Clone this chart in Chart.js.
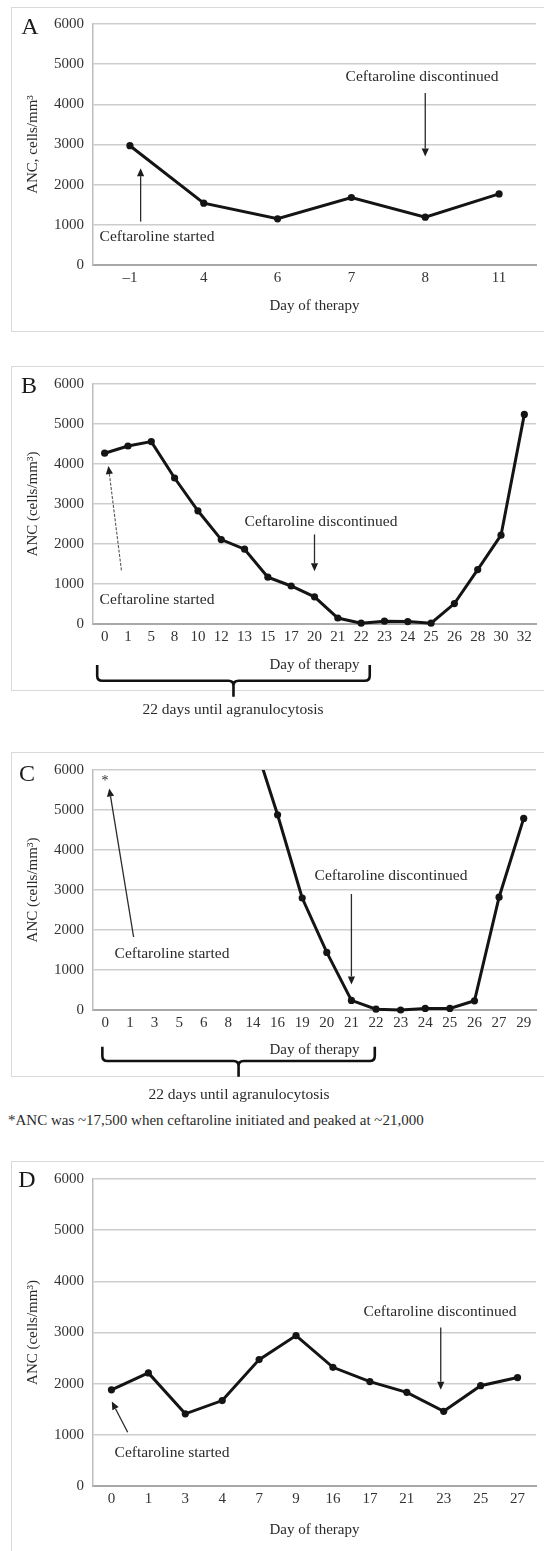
<!DOCTYPE html>
<html>
<head>
<meta charset="utf-8">
<script src="https://cdn.jsdelivr.net/npm/chart.js@4.4.1/dist/chart.umd.min.js"></script>
<style>
  html,body{margin:0;padding:0;background:#fff;}
  body{width:544px;height:1551px;position:relative;overflow:hidden;font-family:"Liberation Serif","DejaVu Serif",serif;}
  .box{position:absolute;left:11px;width:620px;border:1.5px solid #d9d9d9;box-sizing:border-box;}
  .cv{position:absolute;left:0;}
  .t{position:absolute;transform:translate(-50%,-50%);white-space:nowrap;line-height:1;font-size:15.5px;color:#2a2a2a;z-index:3;}
  .big{font-size:24px;color:#1a1a1a;}
  .fn{position:absolute;transform:translate(0,-50%);white-space:nowrap;line-height:1;font-size:15px;color:#2a2a2a;}
</style>
</head>
<body>
<div class="box" style="top:7px;height:325px"></div>
<div class="box" style="top:366px;height:325px"></div>
<div class="box" style="top:752px;height:325px"></div>
<div class="box" style="top:1161px;height:500px"></div>

<canvas id="cA" class="cv" style="top:0px" width="544" height="340"></canvas>
<canvas id="cB" class="cv" style="top:366px" width="544" height="340"></canvas>
<canvas id="cC" class="cv" style="top:752px" width="544" height="340"></canvas>
<canvas id="cD" class="cv" style="top:1161px" width="544" height="390"></canvas>

<div class="t big" style="left:30px;top:26px">A</div>
<div class="t" style="left:422px;top:76px">Ceftaroline discontinued</div>
<div class="t" style="left:157px;top:236px">Ceftaroline started</div>

<div class="t big" style="left:29px;top:385px">B</div>
<div class="t" style="left:321px;top:521px">Ceftaroline discontinued</div>
<div class="t" style="left:157px;top:599px">Ceftaroline started</div>
<div class="t" style="left:233px;top:709px">22 days until agranulocytosis</div>

<div class="t big" style="left:27px;top:773px">C</div>
<div class="t" style="left:105px;top:781px;font-size:14px">*</div>
<div class="t" style="left:391px;top:875px">Ceftaroline discontinued</div>
<div class="t" style="left:172px;top:953px">Ceftaroline started</div>
<div class="t" style="left:239px;top:1094px">22 days until agranulocytosis</div>
<div class="fn" style="left:8px;top:1120px">*ANC was ~17,500 when ceftaroline initiated and peaked at ~21,000</div>

<div class="t big" style="left:27px;top:1179px">D</div>
<div class="t" style="left:440px;top:1311px">Ceftaroline discontinued</div>
<div class="t" style="left:172px;top:1452px">Ceftaroline started</div>

<script>
// ---------------- data ----------------
const daysA = ['\u20131', '4', '6', '7', '8', '11'];
const ancA  = [2970, 1540, 1150, 1680, 1190, 1770];

const daysB = ['0','1','5','8','10','12','13','15','17','20','21','22','23','24','25','26','28','30','32'];
const ancB  = [4270, 4450, 4560, 3650, 2830, 2110, 1870, 1170, 950, 680, 150, 20, 70, 60, 20, 510, 1360, 2220, 5240];

const daysC = ['0','1','3','5','6','8','14','16','19','20','21','22','23','24','25','26','27','29'];
const ancC  = [17500, 19000, 20500, 21000, 19500, 16500, 6800, 4880, 2800, 1440, 240, 20, 0, 40, 40, 230, 2820, 4790];

const daysD = ['0','1','3','4','7','9','16','17','21','23','25','27'];
const ancD  = [1880, 2210, 1410, 1670, 2470, 2940, 2320, 2040, 1830, 1460, 1960, 2120];

const yTicks = [0, 1000, 2000, 3000, 4000, 5000, 6000];
const yTitleA = 'ANC, cells/mm\u00B3';
const yTitleBCD = 'ANC (cells/mm\u00B3)';
const xTitle = 'Day of therapy';

// annotation anchors: [category index, ANC value]
const arrowsA = [{from:[0.145,1080], to:[0.145,2410]}, {from:[4,4280], to:[4,2700]}];
const arrowsB = [{from:[0.72,1340], to:[0.16,3950], dash:true}, {from:[9,2240], to:[9,1320]}];
const arrowsC = [{from:[1.15,1825], to:[0.16,5540]}, {from:[10,2900], to:[10,640]}];
const arrowsD = [{from:[0.44,1050], to:[0.01,1650]}, {from:[8.92,3100], to:[8.92,1880]}];
const braceB = {from:-0.32, to:11.37};
const braceC = {from:-0.12, to:10.95};

// ---------------- plugin ----------------
const annoPlugin = {
  id: 'anno',
  afterDatasetsDraw(chart, args, opts) {
    const {ctx, chartArea} = chart;
    const xs = chart.scales.x, ys = chart.scales.y;
    ctx.save();
    (opts.arrows || []).forEach(a => {
      const x0 = xs.getPixelForValue(a.from[0]), y0 = ys.getPixelForValue(a.from[1]);
      const x1 = xs.getPixelForValue(a.to[0]),   y1 = ys.getPixelForValue(a.to[1]);
      const ang = Math.atan2(y1 - y0, x1 - x0);
      const hl = 8, hw = 3.6;
      const bx = x1 - hl * Math.cos(ang), by = y1 - hl * Math.sin(ang);
      ctx.strokeStyle = a.dash ? '#555' : '#2a2a2a';
      ctx.fillStyle = '#1e1e1e';
      ctx.lineWidth = a.dash ? 1.1 : 1.3;
      ctx.setLineDash(a.dash ? [3, 1.5] : []);
      ctx.beginPath(); ctx.moveTo(x0, y0); ctx.lineTo(bx, by); ctx.stroke();
      ctx.setLineDash([]);
      ctx.beginPath();
      ctx.moveTo(x1, y1);
      ctx.lineTo(bx + hw * Math.sin(ang), by - hw * Math.cos(ang));
      ctx.lineTo(bx - hw * Math.sin(ang), by + hw * Math.cos(ang));
      ctx.closePath(); ctx.fill();
    });
    const b = opts.brace;
    if (b) {
      const L = xs.getPixelForValue(b.from), R = xs.getPixelForValue(b.to);
      const C = (L + R) / 2;
      const top = chartArea.bottom + b.top, mid = chartArea.bottom + b.mid, tip = chartArea.bottom + b.tip;
      const r = 5;
      ctx.strokeStyle = '#111'; ctx.lineWidth = 2.6; ctx.lineCap = 'butt'; ctx.lineJoin = 'round';
      ctx.beginPath();
      ctx.moveTo(L, top);
      ctx.lineTo(L, mid - r);
      ctx.quadraticCurveTo(L, mid, L + r, mid);
      ctx.lineTo(C - r, mid);
      ctx.quadraticCurveTo(C, mid, C, mid + r);
      ctx.lineTo(C, tip);
      ctx.moveTo(C, mid + r);
      ctx.quadraticCurveTo(C, mid, C + r, mid);
      ctx.lineTo(R - r, mid);
      ctx.quadraticCurveTo(R, mid, R, mid - r);
      ctx.lineTo(R, top);
      ctx.stroke();
    }
    ctx.restore();
  }
};

// ---------------- builder ----------------
const FONT = "'Liberation Serif', 'DejaVu Serif', serif";
function makeChart(id, labels, values, cfg) {
  const canvas = document.getElementById(id);
  return new Chart(canvas, {
    type: 'line',
    data: {
      labels: labels,
      datasets: [{
        data: values,
        borderColor: '#141414',
        backgroundColor: '#141414',
        borderWidth: 3,
        pointRadius: 3.6,
        pointHoverRadius: 3.6,
        pointBorderWidth: 0,
        tension: 0,
        clip: {left: 10, right: 10, top: 0, bottom: 10}
      }]
    },
    options: {
      responsive: false,
      animation: false,
      devicePixelRatio: 1,
      events: [],
      layout: {padding: {left: 0, right: 8, top: cfg.plotTop, bottom: 0}},
      plugins: {
        legend: {display: false},
        tooltip: {enabled: false},
        anno: {arrows: cfg.arrows, brace: cfg.brace}
      },
      scales: {
        x: {
          type: 'category',
          offset: true,
          grid: {display: false, drawTicks: false},
          border: {display: true, color: '#a8a8a8', width: 2},
          ticks: {color: '#333', font: {family: FONT, size: 15}, padding: 4, maxRotation: 0, autoSkip: false},
          title: {display: true, text: xTitle, color: '#2a2a2a', font: {family: FONT, size: 15},
                  padding: {top: 0, bottom: cfg.xTitlePad}},
          afterFit: s => { s.height = cfg.xHeight; }
        },
        y: {
          min: 0, max: 6000,
          afterBuildTicks: s => { s.ticks = yTicks.map(v => ({value: v})); },
          grid: {color: '#cdcdcd', lineWidth: 1.5, drawTicks: false},
          border: {display: true, color: '#bdbdbd', width: 1.5},
          ticks: {color: '#333', font: {family: FONT, size: 15}, padding: 9, callback: v => String(v)},
          title: {display: true, text: cfg.yTitle, color: '#2a2a2a', font: {family: FONT, size: 15},
                  padding: {top: 24, bottom: 0}},
          afterFit: s => { s.width = 93; }
        }
      }
    },
    plugins: [annoPlugin]
  });
}

makeChart('cA', daysA, ancA, {plotTop: 24, xHeight: 75, xTitlePad: 25, yTitle: yTitleA, arrows: arrowsA});
makeChart('cB', daysB, ancB, {plotTop: 16.7, xHeight: 82, xTitlePad: 32, yTitle: yTitleBCD, arrows: arrowsB,
  brace: Object.assign({top: 41, mid: 56.7, tip: 72.7}, braceB)});
makeChart('cC', daysC, ancC, {plotTop: 17, xHeight: 82, xTitlePad: 33, yTitle: yTitleBCD, arrows: arrowsC,
  brace: Object.assign({top: 36.7, mid: 51, tip: 66.7}, braceC)});
makeChart('cD', daysD, ancD, {plotTop: 15.7, xHeight: 65, xTitlePad: 12, yTitle: yTitleBCD, arrows: arrowsD});
</script>
</body>
</html>
